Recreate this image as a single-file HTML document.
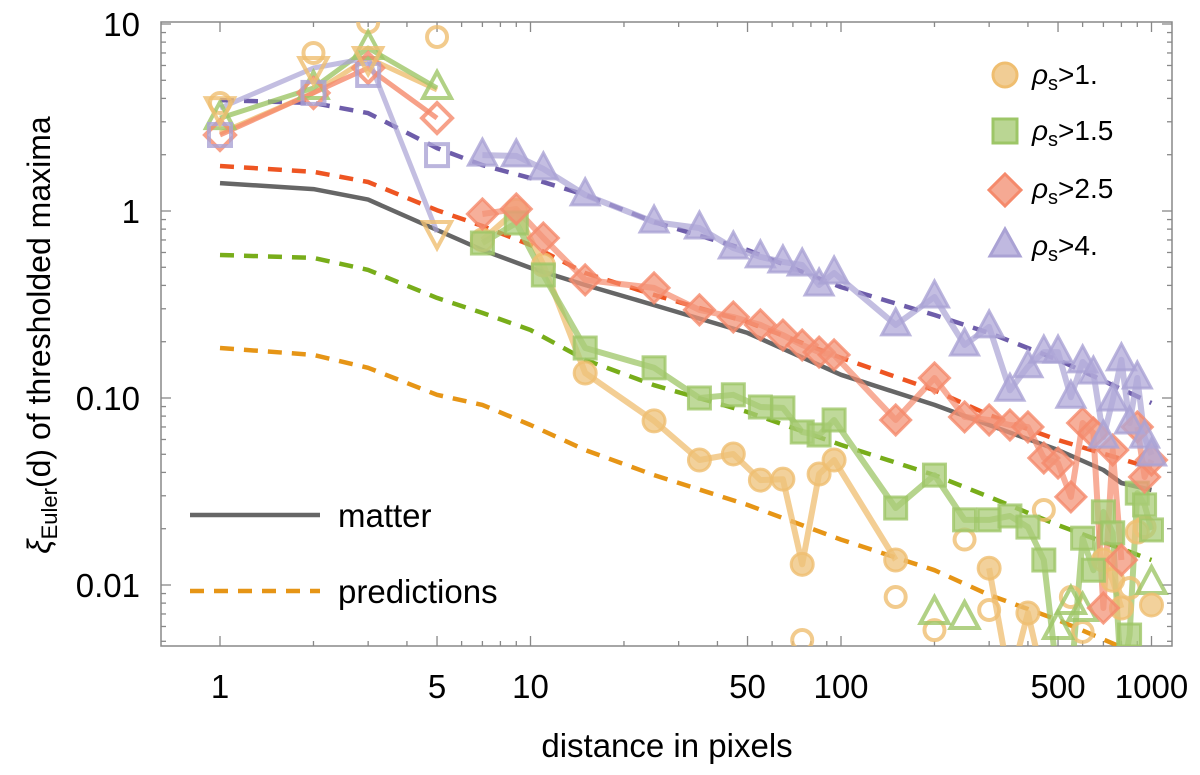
<!DOCTYPE html>
<html><head><meta charset="utf-8"><style>
body{margin:0;background:#fff}
svg{display:block;font-family:"Liberation Sans",sans-serif}
</style></head><body>
<svg id="chart" width="1200" height="775" viewBox="0 0 1200 775"></svg>
<script>
// ---- data ----
const bins = [7,9,11,15,25,35,45,55,65,75,85,95,150,200,250,300,350,400,450,500,550,600,650,700,750,800,850,900,950,1000];
const rho4 = [1.99,1.97,1.68,1.22,0.873,0.811,0.634,0.568,0.534,0.514,0.402,0.466,0.246,0.347,0.192,0.240,0.110,0.147,0.176,0.176,0.101,0.156,0.136,0.0618,0.0975,0.160,0.0735,0.128,0.0618,0.0496];
const rho25 = [0.964,1.025,0.717,0.428,0.388,0.296,0.271,0.246,0.217,0.192,0.176,0.170,0.0763,0.128,0.0792,0.0763,0.0717,0.070,0.0478,0.0449,0.0296,0.0735,0.065,0.00753,0.0527,0.0136,null,0.070,0.0378,0.0466];
const rho15 = [0.674,0.863,0.455,0.185,0.145,0.100,0.104,0.0895,0.0885,0.0658,0.0634,0.0763,0.0258,0.0387,0.0223,0.0223,0.0234,0.0204,0.0136,0.003,0.003,0.0178,0.0120,0.0246,0.019,0.003,0.0054,0.031,0.0268,0.0197];
const rho1 = [0.70,1.01,0.514,0.136,0.0754,0.0466,0.0502,0.0364,0.0368,0.0129,0.0392,0.0466,0.0136,null,null,0.0123,0.003,0.00708,0.003,null,null,null,null,0.0136,0.0106,0.00753,null,0.0192,null,0.00782];
const openCircD = [75,150,200,250,300,450,550,600,850,950];
const openCircV = [0.00508,0.00863,0.00574,0.0175,0.00735,0.0252,0.00863,0.00561,0.00964,0.0204];
const openTriD = [200,250,500,550,600,1000];
const openTriV = [0.00708,0.00666,0.00589,0.00801,0.00735,0.01025];
const early = [1,2,3,5];
const earlyGreen = [3.14,4.55,7.44,4.55];
const earlyRed = [2.55,4.28,5.82,3.14];
const earlyPurple = [2.55,4.28,5.34,1.99];
const earlyOrangeCirc = [3.78,7.0,10.2,8.52];
const earlyInvTri = [3.55,5.82,6.58,0.772];
const earlyOrangeLine = [2.61,4.28,6.58,4.44];
const predD = [1,2,3,5,7,10,15,25,50,100,200,300,500,1000];
const predPurple = [3.92,3.78,3.34,2.17,1.76,1.50,1.22,0.873,0.619,0.392,0.278,0.223,0.160,0.094];
const predRed = [1.74,1.62,1.43,1.01,0.831,0.658,0.466,0.356,0.255,0.164,0.110,0.0811,0.0596,0.0422];
const predGreen = [0.582,0.561,0.484,0.343,0.285,0.231,0.16,0.117,0.0842,0.0561,0.0387,0.0296,0.0209,0.0136];
const predOrange = [0.185,0.170,0.145,0.104,0.0918,0.0717,0.0527,0.0387,0.0268,0.0175,0.0120,0.00885,0.0065,0.00397];
const matterD = [1,2,3,5,7,10,15,25,50,100,200,300,500,700,800,1000];
const matterV = [1.41,1.31,1.15,0.791,0.619,0.496,0.402,0.314,0.223,0.133,0.0918,0.0717,0.0527,0.0412,0.0351,0.0322];
const xTickLabels = ["1","5","10","50","100","500","1000"];
const xTickVals = [1,5,10,50,100,500,1000];
const yTickLabels = ["10","1","0.10","0.01"];
const yTickVals = [10,1,0.1,0.01];

// ---- axes ----
const L=161,R=1172,T=22,B=646;
const X = d => 220 + Math.log10(d)*310.5;
const Y = v => 211 - Math.log10(v)*187;
const svg = document.getElementById('chart');
const NS='http://www.w3.org/2000/svg';
function mk(tag, attrs, parent){const e=document.createElementNS(NS,tag);for(const k in attrs)e.setAttribute(k,attrs[k]);(parent||svg).appendChild(e);return e;}

const defs=mk('defs',{});
const cp=mk('clipPath',{id:'clip'},defs);
mk('rect',{x:L,y:T,width:R-L,height:B-T},cp);

const frame=mk('rect',{x:L,y:T,width:R-L,height:B-T,fill:'none',stroke:'#888','stroke-width':1.5});


const tg=mk('g',{stroke:'#888','stroke-width':1.3});


for(let e=0;e<=3;e++)for(let m=1;m<10;m++){const d=m*Math.pow(10,e);const x=X(d);if(x<L||x>R)continue;
 const len=(m==1||m==5)?10:5;
 mk('line',{x1:x,y1:B,x2:x,y2:B-len},tg);mk('line',{x1:x,y1:T,x2:x,y2:T+len},tg);}
for(let e=-3;e<=1;e++)for(let m=1;m<10;m++){const v=m*Math.pow(10,e);const y=Y(v);if(y<T||y>B)continue;
 const len=m==1?10:5;
 mk('line',{x1:L,y1:y,x2:L+len,y2:y},tg);mk('line',{x1:R,y1:y,x2:R-len,y2:y},tg);}
xTickLabels.forEach((s,i)=>{const t=mk('text',{x:X(xTickVals[i]),y:698,'font-size':33,'text-anchor':'middle',fill:'#000'});t.textContent=s;
 
 });
yTickLabels.forEach((s,i)=>{const t=mk('text',{x:140,y:Y(yTickVals[i])+12,'font-size':33,'text-anchor':'end',fill:'#000'});t.textContent=s;
 
 });

const plot=mk('g',{'clip-path':'url(#clip)'});



function line(ds,vs,color,w,dash,op,name){
 let d='',pen=false;
 ds.forEach((x,i)=>{const v=vs[i];if(v==null){pen=false;return;}d+=(pen?'L':'M')+X(x).toFixed(1)+','+Y(v).toFixed(1);pen=true;});
 const p=mk('path',{d:d,fill:'none',stroke:color,'stroke-width':w,'stroke-dasharray':dash||'none','stroke-opacity':op,'stroke-linejoin':'round'},plot);
 
 
 return p;}
function marker(shape,cx,cy,fill,stroke,parent,open){
 const g=parent;let e;const fo=open?'none':fill;
 const common={fill:fo,'fill-opacity':open?0:0.75,stroke:stroke,'stroke-width':open?4:3,'stroke-opacity':0.8};
 if(shape=='circle')e=mk('circle',Object.assign({cx:cx,cy:cy,r:open?10:11},common),g);
 else if(shape=='square')e=mk('rect',Object.assign({x:cx-11,y:cy-11,width:22,height:22},common),g);
 else if(shape=='diamond')e=mk('path',Object.assign({d:`M${cx},${cy-15}L${cx+15},${cy}L${cx},${cy+15}L${cx-15},${cy}Z`},common),g);
 else if(shape=='tri')e=mk('path',Object.assign({d:`M${cx},${cy-16}L${cx+14},${cy+10}L${cx-14},${cy+10}Z`},common),g);
 else if(shape=='itri')e=mk('path',Object.assign({d:`M${cx},${cy+16}L${cx+14},${cy-10}L${cx-14},${cy-10}Z`},common),g);
 return e;}
function points(ds,vs,shape,fill,stroke,name,open){
 const g=mk('g',{},plot);
 
 
 ds.forEach((x,i)=>{const v=vs[i];if(v==null)return;const m=marker(shape,X(x),Y(v),fill,stroke,g,open);
  
  });}

const C={o:'#eec17a',os:'#efbe70',g:'#a9cc78',gs:'#9dc667',r:'#f39478',rs:'#f58a6c',p:'#b0a8d8',ps:'#aaa2d4'};

line(predD,predOrange,'#e69516',4.5,'14 10',1,'prediction-rho1');
line(predD,predGreen,'#78ad1a',4.5,'14 10',1,'prediction-rho1-5');
line(predD,predRed,'#ee5522',4.5,'14 10',1,'prediction-rho2-5');
line(predD,predPurple,'#6e5daa',4.5,'14 10',1,'prediction-rho4');
line(matterD,matterV,'#666',4.5,null,1,'matter-line');

line(early,earlyOrangeLine,C.os,5,null,0.8,'early-orange-line');
line(early,earlyGreen,C.gs,5,null,0.8,'early-green-line');
line(early,earlyRed,C.rs,5,null,0.8,'early-red-line');
line(early,earlyInvTri,C.ps,5,null,0.7,'early-purple-line');
points(early,earlyOrangeCirc,'circle',C.o,C.os,'early-open-circles',true);
points(early,earlyGreen,'tri',C.g,C.gs,'early-open-triangles',true);
points(early,earlyRed,'diamond',C.r,C.rs,'early-open-diamonds',true);
points(early,earlyPurple,'square',C.p,C.ps,'early-open-squares',true);
points(early,earlyInvTri,'itri',C.o,C.os,'early-open-inv-triangles',true);

line(bins,rho1,C.os,6,null,0.75,'rho1-line');
line(bins,rho15,C.gs,6,null,0.75,'rho1-5-line');
line(bins,rho25,C.rs,6,null,0.7,'rho2-5-line');
line(bins,rho4,C.ps,6,null,0.7,'rho4-line');
points(openCircD,openCircV,'circle',C.o,C.os,'open-circles-rho1',true);
points(openTriD,openTriV,'tri',C.g,C.gs,'open-triangles-rho1-5',true);
points(bins,rho1,'circle',C.o,C.os,'rho1-points');
points(bins,rho15,'square',C.g,C.gs,'rho1-5-points');
points(bins,rho25,'diamond',C.r,C.rs,'rho2-5-points');
points(bins,rho4,'tri',C.p,C.ps,'rho4-points');
</script>
<svg width="1200" height="775" style="position:absolute;left:0;top:0">
 <g font-family="Liberation Sans, sans-serif" font-size="28">
  <circle cx="1005" cy="75" r="12" fill="#eec17a" fill-opacity="0.8" stroke="#efbe70" stroke-width="3"/>
  <text x="1032" y="84"><tspan font-style="italic">ρ</tspan><tspan font-size="20" dy="6">s</tspan><tspan dy="-6">&gt;1.</tspan></text>
  <rect x="993" y="119" width="24" height="24" fill="#a9cc78" fill-opacity="0.8" stroke="#9dc667" stroke-width="3"/>
  <text x="1032" y="140"><tspan font-style="italic">ρ</tspan><tspan font-size="20" dy="6">s</tspan><tspan dy="-6">&gt;1.5</tspan></text>
  <path d="M1005,174L1021,190L1005,206L989,190Z" fill="#f39478" fill-opacity="0.8" stroke="#f58a6c" stroke-width="3"/>
  <text x="1032" y="198"><tspan font-style="italic">ρ</tspan><tspan font-size="20" dy="6">s</tspan><tspan dy="-6">&gt;2.5</tspan></text>
  <path d="M1005,229L1020,256L990,256Z" fill="#b0a8d8" fill-opacity="0.8" stroke="#aaa2d4" stroke-width="3"/>
  <text x="1032" y="255"><tspan font-style="italic">ρ</tspan><tspan font-size="20" dy="6">s</tspan><tspan dy="-6">&gt;4.</tspan></text>
 </g>
 <g font-family="Liberation Sans, sans-serif" font-size="33">
  <line x1="190" y1="515" x2="320" y2="515" stroke="#666" stroke-width="4.5"/>
  <text x="338" y="527">matter</text>
  <line x1="190" y1="591" x2="320" y2="591" stroke="#e69516" stroke-width="4.5" stroke-dasharray="14 10"/>
  <text x="338" y="603">predictions</text>
 </g>
 <text x="667" y="757" font-family="Liberation Sans, sans-serif" font-size="33" text-anchor="middle">distance in pixels</text>
 <text transform="translate(50,335) rotate(-90)" font-family="Liberation Sans, sans-serif" font-size="32" text-anchor="middle"><tspan font-style="italic">ξ</tspan><tspan font-size="22" dy="7">Euler</tspan><tspan dy="-7">(d) of thresholded maxima</tspan></text>
</svg>
</body></html>
